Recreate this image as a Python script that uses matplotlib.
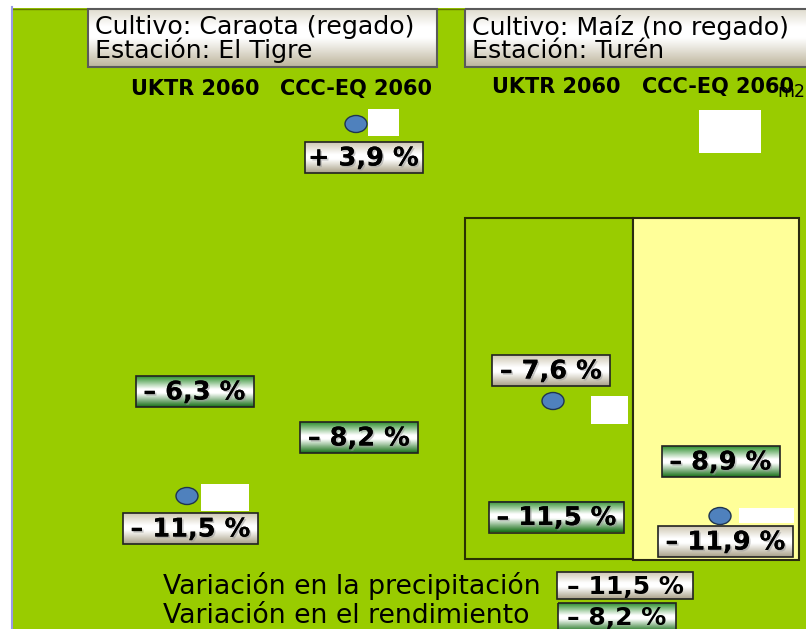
import numpy as np
import matplotlib
matplotlib.use("Agg")
import matplotlib.pyplot as plt
import matplotlib.patches as mpatches
import matplotlib.patheffects as pe
from matplotlib.colors import LinearSegmentedColormap

# ============ DATA ============
crops = ["Cultivo: Caraota (regado)", "Cultivo: Maíz (no regado)"]
stations = ["Estación: El Tigre", "Estación: Turén"]
scenarios = ["UKTR 2060", "CCC-EQ 2060"]

# variacion en % (orden: UKTR 2060, CCC-EQ 2060)
precip_caraota = [-11.5, 3.9]
yield_caraota = [-6.3, -8.2]
precip_maiz = [-7.6, -11.9]
yield_maiz = [-11.5, -8.9]

legend_labels = ["Variación en la precipitación", "Variación en el rendimiento"]
legend_values = [-11.5, -8.2]

# ============ LAYOUT (pixels) ============
W, H = 806, 629
GREEN = "#99cc00"
YELLOW = "#ffff99"

# box centers: [UKTR, CCC-EQ]
precip_pos = {
    "caraota": [(190.5, 528.5), (363.5, 157.5)],
    "maiz": [(551, 370.5), (725.5, 541.5)],
}
yield_pos = {
    "caraota": [(194.5, 391.5), (359, 437.5)],
    "maiz": [(556.5, 517), (720.5, 461.5)],
}
header_x = [(195, 356), (556, 718)]
header_y = [89, 87]
title_boxes = [(88, 9, 437, 67), (465, 9, 812, 67)]

# leftover markers from the original slide
dots = [(356, 124), (187, 496), (553, 401), (720, 516)]
white_rects = [(368, 109, 399, 136), (201, 484, 249, 511), (591, 396, 628, 424),
               (739, 508, 794, 523), (699, 110, 761, 153)]

beige_cmap = LinearSegmentedColormap.from_list(
    "beige", [(0, "#cfc8b4"), (0.4, "#ffffff"), (0.55, "#ffffff"), (1, "#a9a188")])
green_cmap = LinearSegmentedColormap.from_list(
    "verde", [(0, "#2f902f"), (0.42, "#ffffff"), (0.55, "#ffffff"), (1, "#187018")])
title_cmap = LinearSegmentedColormap.from_list(
    "titulo", [(0, "#e0dccf"), (0.3, "#ffffff"), (0.5, "#ffffff"), (1, "#bdb59c")])

VAL_FS = 18.5


def fmt(v):
    sign = "+" if v > 0 else "\u2013"
    return f"{sign} {abs(v):.1f} %".replace(".", ",")


def gradient_box(ax, x0, y0, x1, y1, cmap, edge="#222222", lw=1.2, z=3):
    grad = np.linspace(0, 1, 64).reshape(-1, 1)
    ax.imshow(grad, cmap=cmap, extent=(x0, x1, y1, y0), origin="upper",
              aspect="auto", zorder=z, interpolation="bilinear")
    ax.add_patch(mpatches.Rectangle((x0, y0), x1 - x0, y1 - y0, fill=False,
                                    edgecolor=edge, lw=lw, zorder=z + 0.1))


def shadow():
    return [pe.withSimplePatchShadow(offset=(1.2, -1.2), shadow_rgbFace="#999999", alpha=0.5),
            pe.Normal()]


def value_box(ax, cx, cy, v, cmap, h=31):
    w = 135 if abs(v) >= 10 else 118
    gradient_box(ax, cx - w / 2, cy - h / 2, cx + w / 2, cy + h / 2, cmap)
    ax.text(cx, cy + 1, fmt(v), ha="center", va="center", fontsize=VAL_FS,
            fontweight="bold", color="black", zorder=5, path_effects=shadow())


fig = plt.figure(figsize=(W / 100, H / 100), dpi=100)
ax = fig.add_axes([0, 0, 1, 1])
ax.set_xlim(0, W)
ax.set_ylim(H, 0)
ax.axis("off")

# background
ax.add_patch(mpatches.Rectangle((13, 8), W - 13, H - 8, facecolor=GREEN,
                                edgecolor="none", zorder=0))
ax.plot([13, W], [8.5, 8.5], color="#667a00", lw=1, zorder=0.5)
ax.plot([11.5, 11.5], [7, H], color="#9a9ae6", lw=1.5, zorder=0.5)

# panels for maiz
ax.add_patch(mpatches.Rectangle((465, 218), 168, 341, facecolor=GREEN,
                                edgecolor="#2a3300", lw=1.5, zorder=1))
ax.add_patch(mpatches.Rectangle((633, 218), 166, 342, facecolor=YELLOW,
                                edgecolor="#2a2a10", lw=1.5, zorder=1))

# title boxes
for (x0, y0, x1, y1), crop, st in zip(title_boxes, crops, stations):
    gradient_box(ax, x0, y0, x1, y1, title_cmap, edge="#5a5a5a", lw=1.5)
    ax.text(x0 + 7, 39, crop + "\n" + st, fontsize=18.2, va="center",
            linespacing=0.9, zorder=5)

# scenario headers
for xs, yh in zip(header_x, header_y):
    for xc, sc in zip(xs, scenarios):
        ax.text(xc, yh, sc, ha="center", va="center", fontsize=15,
                fontweight="bold", zorder=4)
ax.text(777, 92, "m2", fontsize=12.5, va="center", zorder=3.5)

# leftover dots and white patches
for cx, cy in dots:
    ax.add_patch(mpatches.Ellipse((cx, cy), 22, 17, facecolor="#4f81bd",
                                  edgecolor="#1f3550", lw=1, zorder=2))
for x0, y0, x1, y1 in white_rects:
    ax.add_patch(mpatches.Rectangle((x0, y0), x1 - x0, y1 - y0, facecolor="white",
                                    edgecolor="none", zorder=2))

# value boxes
for key, pv, yv in [("caraota", precip_caraota, yield_caraota),
                    ("maiz", precip_maiz, yield_maiz)]:
    for i in range(len(scenarios)):
        value_box(ax, *precip_pos[key][i], pv[i], beige_cmap)
        value_box(ax, *yield_pos[key][i], yv[i], green_cmap)

# legend
ax.text(163, 586, legend_labels[0], fontsize=19.3, va="center", zorder=5)
ax.text(163, 616, legend_labels[1], fontsize=19.3, va="center", zorder=5)
gradient_box(ax, 557, 572, 693, 599, beige_cmap)
ax.text(625, 586.5, fmt(legend_values[0]), ha="center", va="center", fontsize=VAL_FS - 0.5,
        fontweight="bold", zorder=5)
gradient_box(ax, 558, 603, 676, 632, green_cmap)
ax.text(617, 618, fmt(legend_values[1]), ha="center", va="center", fontsize=VAL_FS - 0.5,
        fontweight="bold", zorder=5)

fig.savefig("out.png", dpi=100)
